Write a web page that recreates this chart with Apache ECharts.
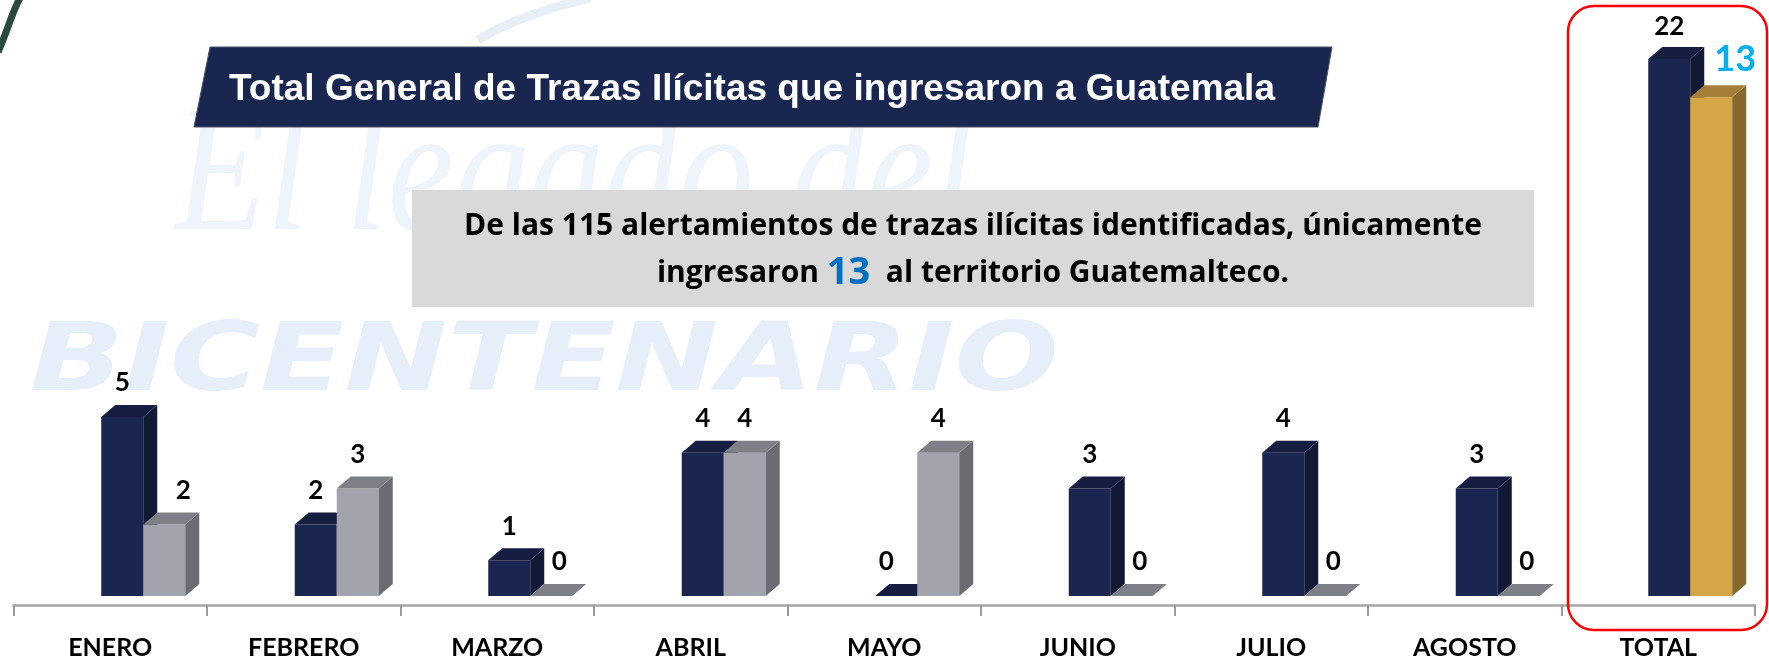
<!DOCTYPE html>
<html>
<head>
<meta charset="utf-8">
<script src="https://cdn.jsdelivr.net/npm/echarts@6/dist/echarts.min.js"></script>
<style>
  html, body { margin: 0; padding: 0; background: #fff; }
  #trazas { width: 1769px; height: 660px; }
</style>
</head>
<body>
<div id="trazas"></div>
<script>
// datos
const categorias = ['ENERO', 'FEBRERO', 'MARZO', 'ABRIL', 'MAYO', 'JUNIO', 'JULIO', 'AGOSTO', 'TOTAL'];
const alertamientos = [5, 2, 1, 4, 0, 3, 4, 3];
const ingresaron = [2, 3, 0, 4, 4, 0, 0, 0];
const totalAlertamientos = 22;
const totalIngresaron = 13;

// medidas del efecto 3d
const BAR_W = 42;
const DX = 14;
const DY = 12;
const LIFT = 9;

const navy = { front: '#1a2550', side: '#111935', top: '#151d40' };
const gris = { front: '#a2a3ac', side: '#6b6c72', top: '#7f8087' };
const oro = { front: '#d4a645', side: '#87692e', top: '#a57f37' };

function bar3d(col, shift, labelFn) {
  return function (params, api) {
    const idx = api.value(0);
    const val = api.value(1);
    const base = api.coord([idx, 0]);
    const tope = api.coord([idx, val]);
    const L = base[0] + shift;
    const R = L + BAR_W;
    const B = base[1] - LIFT;
    const T = tope[1] - LIFT;
    const lab = labelFn(idx, val);
    return {
      type: 'group',
      children: [
        { type: 'rect', shape: { x: L, y: T, width: BAR_W, height: B - T }, style: { fill: col.front } },
        { type: 'polygon', shape: { points: [[R, T], [R + DX, T - DY], [R + DX, B - DY], [R, B]] }, style: { fill: col.side } },
        { type: 'polygon', shape: { points: [[L, T], [R, T], [R + DX, T - DY], [L + DX, T - DY]] }, style: { fill: col.top } },
        {
          type: 'text',
          x: L + BAR_W / 2 + lab.dx,
          y: T - DY - lab.gap,
          style: {
            text: String(val),
            fill: lab.color || '#000',
            font: 'bold ' + (lab.size || 26) + 'px Lato',
            align: 'center',
            verticalAlign: 'bottom',
          },
        },
      ],
    };
  };
}

const chart = echarts.init(document.getElementById('trazas'));

const option = {
  backgroundColor: '#ffffff',
  animation: false,
  grid: { left: 13.5, right: 14, top: 68, bottom: 55 },
  xAxis: {
    type: 'category',
    data: categorias,
    boundaryGap: true,
    axisLine: { lineStyle: { color: '#a6a6a6', width: 2.5 } },
    axisTick: { show: true, length: 11, lineStyle: { color: '#999999', width: 2 } },
    axisLabel: { color: '#000', fontFamily: 'Lato', fontWeight: 'bold', fontSize: 25, margin: 30 },
  },
  yAxis: [
    { type: 'value', min: 0, max: 15, show: false },
    { type: 'value', min: 0, max: 22, show: false },
    { type: 'value', min: 0, max: 14, show: false },
  ],
  graphic: [
    // marca de agua
    {
      type: 'text', x: 175, y: 92, z: -10, silent: true, scaleY: 1.2,
      style: { text: 'El legado del', fill: '#eef4fb', font: 'italic 150px "Liberation Serif"' },
    },
    {
      type: 'text', x: 30, y: 366, z: -10, silent: true, scaleX: 1.31,
      style: { text: 'BICENTENARIO', fill: '#e6eef9', font: 'italic bold 94px "DejaVu Sans"', verticalAlign: 'middle' },
    },
    {
      type: 'bezierCurve', z: 5, silent: true,
      shape: { x1: -2, y1: 52, cpx1: 8, cpy1: 30, cpx2: 12, cpy2: 12, x2: 20, y2: -2 },
      style: { stroke: '#2c4a3b', lineWidth: 7, fill: null },
    },
    {
      type: 'bezierCurve', z: -10, silent: true,
      shape: { x1: 478, y1: 40, cpx1: 510, cpy1: 20, cpx2: 550, cpy2: 8, x2: 590, y2: -2 },
      style: { stroke: '#e6eef8', lineWidth: 9, fill: null },
    },
    // caja del título
    {
      type: 'polygon', z: 10,
      shape: { points: [[210, 47], [1332, 47], [1318, 127], [194, 127]] },
      style: { fill: '#192750', stroke: '#4a5168', lineWidth: 1 },
    },
    {
      type: 'text', z: 11, x: 229, y: 90,
      style: {
        text: 'Total General de Trazas Ilícitas que ingresaron a Guatemala',
        fill: '#fff', font: 'bold 37px "Liberation Sans"', verticalAlign: 'middle',
      },
    },
    // recuadro gris
    {
      type: 'rect', z: 10,
      shape: { x: 412, y: 190, width: 1122, height: 117 },
      style: { fill: '#d9d9d9' },
    },
    {
      type: 'text', z: 11, x: 973, y: 226,
      style: {
        text: 'De las 115 alertamientos de trazas ilícitas identificadas, únicamente',
        fill: '#000', font: 'bold 30px "Open Sans"', align: 'center', verticalAlign: 'middle',
      },
    },
    {
      type: 'text', z: 11, x: 973, y: 273,
      style: {
        text: '{a|ingresaron }{b|13}{a|  al territorio Guatemalteco.}',
        align: 'center', verticalAlign: 'middle',
        rich: {
          a: { fill: '#000', font: 'bold 30px "Open Sans"' },
          b: { fill: '#0070c0', font: 'bold 38px "Open Sans"' },
        },
      },
    },
    // recuadro rojo del total
    {
      type: 'rect', z: 12,
      shape: { x: 1568, y: 6, width: 199, height: 624, r: 26 },
      style: { fill: null, stroke: '#ff0000', lineWidth: 2.5 },
    },
  ],
  series: [
    {
      name: 'Alertamientos',
      type: 'custom',
      yAxisIndex: 0,
      encode: { x: 0, y: 1 },
      data: alertamientos.map((v, i) => [i, v]),
      renderItem: bar3d(navy, -9, (i, v) => ({ dx: v === 0 ? -10 : 0, gap: 9 })),
    },
    {
      name: 'Ingresaron',
      type: 'custom',
      yAxisIndex: 0,
      encode: { x: 0, y: 1 },
      data: ingresaron.map((v, i) => [i, v]),
      renderItem: bar3d(gris, 33, (i, v) => ({
        dx: v === 0 ? 8 : (alertamientos[i] > v ? 19 : 0),
        gap: 9,
      })),
    },
    {
      name: 'Total alertamientos',
      type: 'custom',
      yAxisIndex: 1,
      encode: { x: 0, y: 1 },
      data: [[8, totalAlertamientos]],
      renderItem: bar3d(navy, -10, () => ({ dx: 0, gap: 7 })),
    },
    {
      name: 'Total ingresaron',
      type: 'custom',
      yAxisIndex: 2,
      encode: { x: 0, y: 1 },
      data: [[8, totalIngresaron]],
      renderItem: bar3d(oro, 32, () => ({ dx: 24, gap: 8, color: '#00b0f0', size: 36 })),
    },
  ],
};

chart.setOption(option);
window.addEventListener('resize', () => {
  chart.resize();
});
</script>
</body>
</html>
